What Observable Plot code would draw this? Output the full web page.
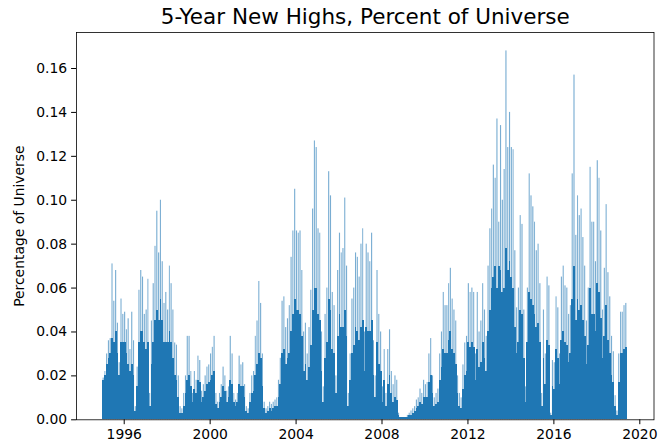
<!DOCTYPE html>
<html>
<head>
<meta charset="utf-8">
<script src="https://cdn.jsdelivr.net/npm/d3@7"></script>
<script src="https://cdn.jsdelivr.net/npm/@observablehq/plot@0.6"></script>
<style>
  html, body { margin: 0; padding: 0; background: #fff; }
  #chart { width: 670px; height: 446px; }
</style>
</head>
<body>
<div id="chart"></div>
<script>
// Monthly data, Jan 1995 .. Jun 2019
const startYear = 1995;
const lastDay = [2019, 5, 10]; // data ends ~10 Jun 2019
const chartTitle = "5-Year New Highs, Percent of Universe";
const yLabel = "Percentage of Universe";
const xTickYears = [1996, 2000, 2004, 2008, 2012, 2016, 2020];
const yTicks = [0, 0.02, 0.04, 0.06, 0.08, 0.10, 0.12, 0.14, 0.16];

// monthly maximum (spike tops)
const peak = [
  0.019,0.022,0.030,0.036,0.037,0.071,0.054,0.068,0.044,0.026,0.055,0.048, // 1995
  0.049,0.041,0.046,0.032,0.049,0.036,0.006,0.024,0.059,0.068,0.065,0.048, // 1996
  0.050,0.064,0.012,0.045,0.062,0.079,0.095,0.076,0.100,0.072,0.053,0.058, // 1997
  0.050,0.070,0.062,0.050,0.035,0.034,0.020,0.006,0.005,0.012,0.020,0.038, // 1998
  0.038,0.022,0.012,0.022,0.018,0.029,0.027,0.013,0.016,0.020,0.024,0.025, // 1999
  0.030,0.033,0.038,0.012,0.008,0.012,0.016,0.024,0.020,0.013,0.015,0.038, // 2000
  0.030,0.012,0.009,0.012,0.029,0.025,0.026,0.016,0.006,0.005,0.012,0.020, // 2001
  0.022,0.038,0.045,0.063,0.053,0.030,0.008,0.005,0.006,0.008,0.007,0.008, // 2002
  0.009,0.010,0.018,0.028,0.054,0.056,0.042,0.046,0.052,0.074,0.086,0.105, // 2003
  0.086,0.085,0.086,0.068,0.040,0.044,0.030,0.042,0.059,0.096,0.127,0.124, // 2004
  0.087,0.085,0.040,0.015,0.048,0.060,0.113,0.102,0.058,0.052,0.020,0.068, // 2005
  0.085,0.076,0.078,0.101,0.070,0.012,0.030,0.055,0.060,0.076,0.074,0.065, // 2006
  0.080,0.087,0.040,0.080,0.076,0.072,0.085,0.036,0.020,0.068,0.048,0.040, // 2007
  0.015,0.032,0.012,0.032,0.041,0.022,0.016,0.020,0.018,0.003,0.001,0.001, // 2008
  0.001,0.001,0.002,0.003,0.004,0.005,0.006,0.009,0.010,0.014,0.012,0.018, // 2009
  0.016,0.017,0.030,0.037,0.020,0.010,0.012,0.014,0.030,0.040,0.058,0.052, // 2010
  0.052,0.062,0.069,0.055,0.050,0.045,0.020,0.012,0.010,0.025,0.035,0.038, // 2011
  0.062,0.058,0.060,0.058,0.030,0.058,0.040,0.045,0.062,0.050,0.038,0.070, // 2012
  0.087,0.096,0.116,0.110,0.137,0.090,0.134,0.100,0.114,0.168,0.124,0.140, // 2013
  0.124,0.123,0.077,0.051,0.060,0.093,0.089,0.050,0.015,0.060,0.112,0.102, // 2014
  0.097,0.090,0.077,0.080,0.062,0.012,0.050,0.030,0.065,0.061,0.003,0.027, // 2015
  0.026,0.056,0.051,0.030,0.065,0.070,0.061,0.060,0.048,0.052,0.112,0.157, // 2016
  0.084,0.102,0.093,0.096,0.083,0.070,0.045,0.060,0.115,0.090,0.090,0.072, // 2017
  0.118,0.110,0.086,0.050,0.069,0.098,0.067,0.056,0.038,0.031,0.011,0.004, // 2018
  0.030,0.049,0.049,0.052,0.053,0.040                                      // 2019
];

// monthly typical level (dense body)
const body = [
  0.018,0.020,0.025,0.028,0.030,0.037,0.035,0.040,0.030,0.020,0.035,0.035, // 1995
  0.035,0.030,0.025,0.022,0.025,0.020,0.004,0.015,0.035,0.040,0.040,0.035, // 1996
  0.032,0.035,0.006,0.025,0.035,0.045,0.050,0.045,0.055,0.045,0.035,0.035, // 1997
  0.035,0.040,0.035,0.028,0.020,0.018,0.010,0.003,0.003,0.006,0.012,0.018, // 1998
  0.020,0.015,0.008,0.014,0.012,0.018,0.017,0.008,0.010,0.013,0.016,0.017, // 1999
  0.018,0.020,0.022,0.007,0.005,0.008,0.010,0.015,0.013,0.008,0.010,0.018, // 2000
  0.016,0.008,0.006,0.008,0.016,0.015,0.015,0.010,0.004,0.003,0.008,0.012, // 2001
  0.013,0.020,0.025,0.030,0.028,0.015,0.005,0.003,0.004,0.005,0.004,0.005, // 2002
  0.006,0.006,0.010,0.016,0.030,0.032,0.025,0.028,0.030,0.040,0.048,0.055, // 2003
  0.050,0.050,0.048,0.038,0.022,0.025,0.018,0.024,0.034,0.050,0.060,0.060, // 2004
  0.048,0.045,0.022,0.008,0.028,0.035,0.055,0.050,0.032,0.030,0.012,0.038, // 2005
  0.048,0.042,0.042,0.050,0.038,0.006,0.018,0.030,0.034,0.042,0.040,0.036, // 2006
  0.042,0.045,0.022,0.042,0.040,0.040,0.045,0.020,0.010,0.035,0.025,0.022, // 2007
  0.008,0.018,0.006,0.016,0.020,0.012,0.008,0.010,0.009,0.002,0.001,0.001, // 2008
  0.001,0.001,0.001,0.002,0.002,0.003,0.004,0.005,0.006,0.008,0.007,0.010, // 2009
  0.010,0.010,0.017,0.020,0.012,0.006,0.007,0.008,0.018,0.024,0.032,0.030, // 2010
  0.030,0.036,0.040,0.032,0.030,0.025,0.012,0.006,0.005,0.014,0.020,0.022, // 2011
  0.035,0.033,0.035,0.033,0.018,0.032,0.024,0.026,0.035,0.028,0.022,0.040, // 2012
  0.050,0.060,0.065,0.070,0.060,0.070,0.068,0.058,0.060,0.078,0.068,0.072, // 2013
  0.065,0.060,0.042,0.030,0.035,0.050,0.048,0.028,0.008,0.035,0.058,0.055, // 2014
  0.052,0.048,0.042,0.044,0.035,0.006,0.028,0.016,0.036,0.034,0.002,0.015, // 2015
  0.014,0.032,0.028,0.016,0.036,0.040,0.035,0.034,0.026,0.030,0.055,0.070, // 2016
  0.045,0.055,0.050,0.052,0.045,0.038,0.025,0.034,0.060,0.048,0.048,0.040, // 2017
  0.062,0.058,0.046,0.028,0.038,0.052,0.036,0.030,0.020,0.017,0.006,0.002, // 2018
  0.017,0.030,0.030,0.032,0.033,0.025                                      // 2019
];

const endDate = new Date(Date.UTC(...lastDay));
const rows = peak.map((p, i) => {
  const x1 = new Date(Date.UTC(startYear, i, 1));
  const next = new Date(Date.UTC(startYear, i + 1, 1));
  return { x1, x2: next < endDate ? next : endDate, peak: p, body: body[i] };
});

const t0 = rows[0].x1.getTime();
const t1 = endDate.getTime();
const pad = (t1 - t0) * 0.05;
const xDomain = [new Date(t0 - pad), new Date(t1 + pad)];
const yDomain = [0, d3.max(peak) * 1.05];
const xTicks = xTickYears.map(y => new Date(Date.UTC(y, 0, 1)));

const color = "#1f77b4";
const tickFont = 13.9;

const chart = Plot.plot({
  width: 670,
  height: 446,
  marginLeft: 76,
  marginRight: 16.5,
  marginTop: 32,
  marginBottom: 26.7,
  style: { fontFamily: "DejaVu Sans", fontSize: tickFont + "px", color: "black", background: "white" },
  x: { type: "utc", domain: xDomain },
  y: { domain: yDomain },
  marks: [
    Plot.rect(rows, { x1: "x1", x2: "x2", y1: 0, y2: "peak", fill: color, fillOpacity: 0.6, insetLeft: 0.35, insetRight: 0.35 }),
    Plot.rect(rows, { x1: "x1", x2: "x2", y1: 0, y2: "body", fill: color, shapeRendering: "crispEdges" }),
    Plot.axisX({ ticks: xTicks, tickFormat: d3.utcFormat("%Y"), tickSize: 4.9, tickPadding: 4.4, label: null, fontSize: tickFont }),
    Plot.axisY({ ticks: yTicks, tickFormat: d3.format(".2f"), tickSize: 4.9, tickPadding: 4.4, label: null, fontSize: tickFont }),
    Plot.frame({ stroke: "black", strokeWidth: 0.8 }),
    Plot.text([chartTitle], { text: d => d, frameAnchor: "top", lineAnchor: "middle", dy: -15, fontSize: 21.5, fill: "black" }),
    Plot.text([yLabel], { text: d => d, frameAnchor: "left", lineAnchor: "middle", dx: -57, rotate: -90, textAnchor: "middle", fontSize: tickFont, fill: "black" })
  ]
});

document.getElementById("chart").appendChild(chart);
</script>
</body>
</html>
